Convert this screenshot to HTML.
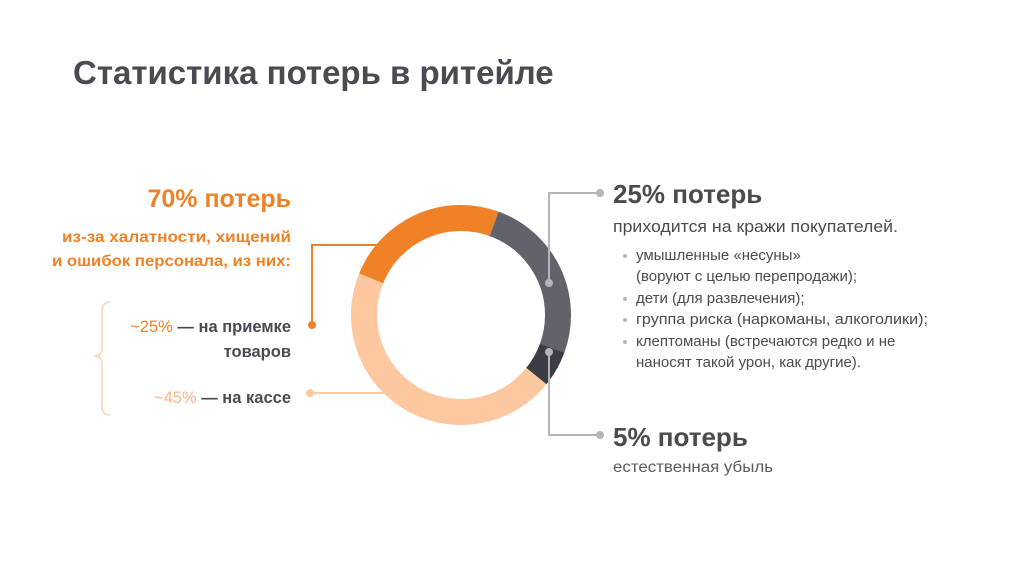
<!DOCTYPE html>
<html><head><meta charset="utf-8"><style>
body{margin:0;background:#fff;}
svg{display:block;font-family:"Liberation Sans","DejaVu Sans",sans-serif;}
</style></head><body>
<svg width="1024" height="574" viewBox="0 0 1024 574">
<rect width="1024" height="574" fill="#fff"/>
<text x="73" y="84" font-size="33" font-weight="bold" fill="#4a4a50">Статистика потерь в ритейле</text>
<g fill="none" stroke-width="26" transform="rotate(-90 461 315)">
<circle cx="461" cy="315" r="97" stroke="#ef8127" stroke-dasharray="149 460.47" stroke-dashoffset="115.1"/>
<circle cx="461" cy="315" r="97" stroke="#62626a" stroke-dasharray="152.4 457.07" stroke-dashoffset="-33.86"/>
<circle cx="461" cy="315" r="97" stroke="#3c3c46" stroke-dasharray="32.2 577.27" stroke-dashoffset="-186.2"/>
<circle cx="461" cy="315" r="97" stroke="#fdc7a0" stroke-dasharray="276 333.47" stroke-dashoffset="-218.4"/>
</g>
<g fill="none" stroke-width="2">
<path d="M312,325 V245 H378" stroke="#ef8127"/>
<path d="M310,393 H385" stroke="#fdc7a0"/>
<path d="M600,193 H549 V283" stroke="#b5b5b8"/>
<path d="M549,352 V435 H600" stroke="#b5b5b8"/>
<path d="M110,302 Q102,302 102,312 V348 Q102,356 94,356 Q102,356 102,364 V406 Q102,415 110,415" stroke="#fcd2b3" stroke-width="1.5"/>
</g>
<circle cx="312" cy="325" r="4" fill="#ef8127"/>
<circle cx="310" cy="393" r="4" fill="#fdc7a0"/>
<circle cx="600" cy="193" r="4" fill="#b5b5b8"/>
<circle cx="549" cy="283" r="4" fill="#b5b5b8"/>
<circle cx="549" cy="352" r="4" fill="#b5b5b8"/>
<circle cx="600" cy="435" r="4" fill="#b5b5b8"/>
<g text-anchor="end" font-weight="bold">
<text x="291" y="207" font-size="25" fill="#ef8127">70% потерь</text>
<text x="291" y="242" font-size="15.5" fill="#ef8127" textLength="229" lengthAdjust="spacingAndGlyphs">из-за халатности, хищений</text>
<text x="291" y="266" font-size="15.5" fill="#ef8127" textLength="239" lengthAdjust="spacingAndGlyphs">и ошибок персонала, из них:</text>
<text x="291" y="332" font-size="16.5" fill="#4a4a50"><tspan fill="#ef8127" font-weight="normal">~25%</tspan> — на приемке</text>
<text x="291" y="357" font-size="16.5" fill="#4a4a50">товаров</text>
<text x="291" y="403" font-size="16.5" fill="#4a4a50"><tspan fill="#f8b48a" font-weight="normal">~45%</tspan> — на кассе</text>
</g>
<text x="613" y="203" font-size="26" font-weight="bold" fill="#4a4a50">25% потерь</text>
<text x="613" y="232" font-size="16.5" fill="#4a4a50" textLength="285" lengthAdjust="spacingAndGlyphs">приходится на кражи покупателей.</text>
<g font-size="15" fill="#4a4a50">
<text x="636" y="260">умышленные «несуны»</text>
<text x="636" y="281">(воруют с целью перепродажи);</text>
<text x="636" y="303">дети (для развлечения);</text>
<text x="636" y="324" textLength="292" lengthAdjust="spacingAndGlyphs">группа риска (наркоманы, алкоголики);</text>
<text x="636" y="346">клептоманы (встречаются редко и не</text>
<text x="636" y="367">наносят такой урон, как другие).</text>
</g>
<g fill="#b5b5b8"><circle cx="625" cy="256" r="2"/><circle cx="625" cy="299" r="2"/><circle cx="625" cy="320" r="2"/><circle cx="625" cy="342" r="2"/></g>
<text x="613" y="446" font-size="26" font-weight="bold" fill="#4a4a50">5% потерь</text>
<text x="613" y="472" font-size="15.5" fill="#5a5a60" textLength="160" lengthAdjust="spacingAndGlyphs">естественная убыль</text>
</svg>
</body></html>
